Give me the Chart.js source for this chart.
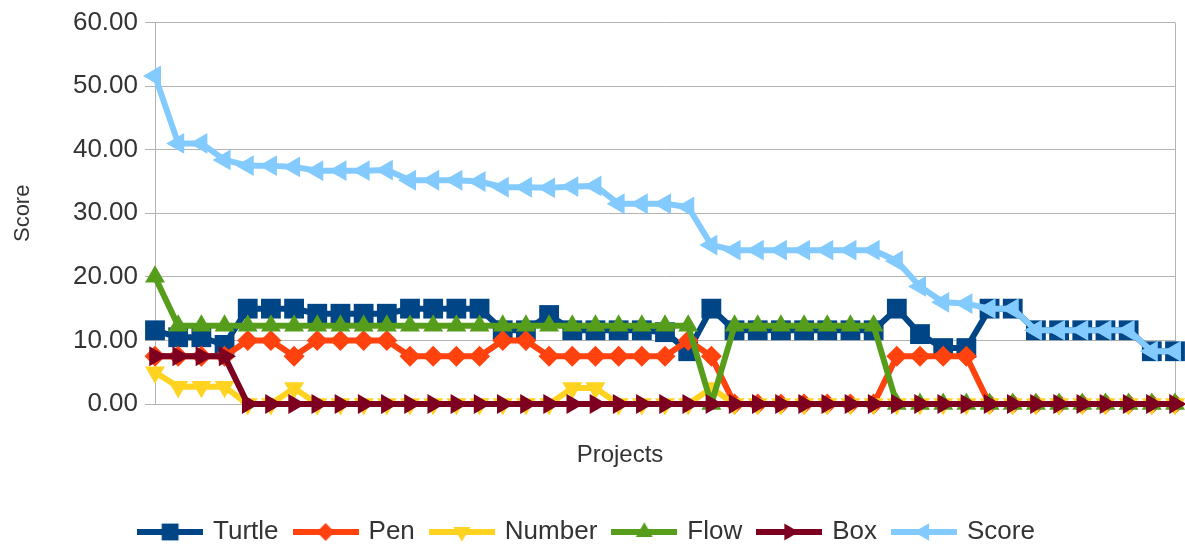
<!DOCTYPE html>
<html>
<head>
<meta charset="utf-8">
<script src="https://cdn.jsdelivr.net/npm/chart.js@4.4.1/dist/chart.umd.min.js"></script>
<style>
    html, body { margin: 0; padding: 0; background: #ffffff; }
    #wrap { width: 1185px; height: 545px; }
</style>
</head>
<body>
<div id="wrap"><canvas id="chart-score"></canvas></div>
<script>
const projects = ['1', '2', '3', '4', '5', '6', '7', '8', '9', '10', '11', '12', '13', '14', '15',
    '16', '17', '18', '19', '20', '21', '22', '23', '24', '25', '26', '27', '28', '29', '30',
    '31', '32', '33', '34', '35', '36', '37', '38', '39', '40', '41', '42', '43', '44', '45'];

const turtle = [11.6, 10.5, 10.5, 9.3, 15, 15, 15, 14.2, 14.2, 14.2, 14.2, 15, 15, 15, 15,
    11.6, 11.6, 14, 11.6, 11.6, 11.6, 11.6, 11.3, 8.3, 15, 11.6, 11.6, 11.6, 11.6, 11.6,
    11.6, 11.6, 15, 11, 8.8, 8.8, 15, 15, 11.6, 11.6, 11.6, 11.6, 11.6, 8.3, 8.3];
const pen = [7.5, 7.5, 7.5, 7.5, 10, 10, 7.5, 10, 10, 10, 10, 7.5, 7.5, 7.5, 7.5,
    10, 10, 7.5, 7.5, 7.5, 7.5, 7.5, 7.5, 10, 7.5, 0, 0, 0, 0, 0,
    0, 0, 7.5, 7.5, 7.5, 7.5, 0, 0, 0, 0, 0, 0, 0, 0, 0];
const number = [5, 2.7, 2.7, 2.7, 0, 0, 2.5, 0, 0, 0, 0, 0, 0, 0, 0,
    0, 0, 0, 2.5, 2.5, 0, 0, 0, 0, 2.5, 0, 0, 0, 0, 0,
    0, 0, 0, 0, 0, 0, 0, 0, 0, 0, 0, 0, 0, 0, 0];
const flow = [20, 12.3, 12.3, 12.3, 12.3, 12.3, 12.3, 12.3, 12.3, 12.3, 12.3, 12.3, 12.3, 12.3, 12.3,
    12.3, 12.3, 12.3, 12.3, 12.3, 12.3, 12.3, 12.3, 12.3, 0, 12.3, 12.3, 12.3, 12.3, 12.3,
    12.3, 12.3, 0, 0, 0, 0, 0, 0, 0, 0, 0, 0, 0, 0, 0];
const box = [7.5, 7.5, 7.5, 7.5, 0, 0, 0, 0, 0, 0, 0, 0, 0, 0, 0,
    0, 0, 0, 0, 0, 0, 0, 0, 0, 0, 0, 0, 0, 0, 0,
    0, 0, 0, 0, 0, 0, 0, 0, 0, 0, 0, 0, 0, 0, 0];
const score = [51.6, 41, 41, 38.4, 37.5, 37.5, 37.3, 36.7, 36.7, 36.7, 36.8, 35.2, 35.2, 35.2, 35,
    34.1, 34.1, 34, 34.2, 34.3, 31.5, 31.5, 31.5, 31, 25, 24.2, 24.2, 24.2, 24.2, 24.2,
    24.2, 24.2, 22.5, 18.5, 16, 15.8, 15, 15, 11.6, 11.6, 11.6, 11.6, 11.6, 8.3, 8.3];

const yTicks = [0, 10, 20, 30, 40, 50, 60];

const FONT = "'Liberation Sans', Arial, sans-serif";
const TEXT_COLOR = '#333333';
const GRID_COLOR = '#b3b3b3';

// name, values, colour, marker, rotation, radius, draw order (lower = on top)
const series = [
    ['Turtle', turtle, '#004586', 'rect', 0, 14, 5],
    ['Pen', pen, '#ff420e', 'rectRot', 0, 10.5, 4],
    ['Number', number, '#ffd320', 'triangle', 180, 11.5, 3],
    ['Flow', flow, '#579d1c', 'triangle', 0, 11.5, 2],
    ['Box', box, '#7e0021', 'triangle', 90, 11.5, 1],
    ['Score', score, '#83caff', 'triangle', 270, 12, 0],
];

// legend symbol: a short line with the marker in the middle
function legendSymbol(color, style, rotation, radius) {
    const c = document.createElement('canvas');
    c.width = 66;
    c.height = 26;
    const ctx = c.getContext('2d');
    ctx.strokeStyle = color;
    ctx.fillStyle = color;
    ctx.lineWidth = 6;
    ctx.beginPath();
    ctx.moveTo(0, 13);
    ctx.lineTo(66, 13);
    ctx.stroke();
    ctx.save();
    ctx.translate(33, 13);
    ctx.rotate(rotation * Math.PI / 180);
    const r = radius * 0.85;
    ctx.beginPath();
    if (style === 'rect') {
        const s = r * Math.SQRT1_2;
        ctx.rect(-s, -s, 2 * s, 2 * s);
    } else if (style === 'rectRot') {
        ctx.moveTo(0, -r);
        ctx.lineTo(r, 0);
        ctx.lineTo(0, r);
        ctx.lineTo(-r, 0);
        ctx.closePath();
    } else {
        for (let k = 0; k < 3; k++) {
            const a = k * 2 * Math.PI / 3;
            const px = Math.sin(a) * r;
            const py = -Math.cos(a) * r;
            if (k === 0) ctx.moveTo(px, py); else ctx.lineTo(px, py);
        }
        ctx.closePath();
    }
    ctx.fill();
    ctx.restore();
    return c;
}

const symbols = series.map(s => legendSymbol(s[2], s[3], s[4], s[5]));

const datasets = series.map(function (s) {
    return {
        label: s[0],
        data: s[1],
        borderColor: s[2],
        backgroundColor: s[2],
        pointBackgroundColor: s[2],
        pointBorderColor: s[2],
        pointBorderWidth: 0,
        pointStyle: s[3],
        pointRotation: s[4],
        pointRadius: s[5],
        pointHoverRadius: s[5],
        borderWidth: 6,
        borderJoinStyle: 'round',
        tension: 0,
        clip: false,
        order: s[6],
    };
});

// x title drawn where the original puts it
const projectsTitle = {
    id: 'projectsTitle',
    afterDraw(chart) {
        const ctx = chart.ctx;
        ctx.save();
        ctx.font = "24px " + FONT;
        ctx.fillStyle = TEXT_COLOR;
        ctx.textAlign = 'center';
        ctx.textBaseline = 'middle';
        ctx.fillText('Projects', 620, 455);
        ctx.restore();
    }
};

new Chart(document.getElementById('chart-score'), {
    type: 'line',
    data: {
        labels: projects,
        datasets: datasets,
    },
    options: {
        responsive: true,
        maintainAspectRatio: false,
        animation: false,
        events: [],
        layout: {
            autoPadding: false,
            padding: { top: 22, right: 10, bottom: -10, left: 0 }
        },
        scales: {
            x: {
                offset: false,
                grid: {
                    drawTicks: false,
                    color: ctx => (ctx.index === 0 || ctx.index === projects.length - 1) ? GRID_COLOR : 'rgba(0,0,0,0)',
                    lineWidth: 1,
                },
                border: { color: GRID_COLOR, width: 1 },
                ticks: { display: false },
                afterFit: function (scale) { scale.height = 98; },
            },
            y: {
                min: 0,
                max: 60,
                afterBuildTicks: function (scale) {
                    scale.ticks = yTicks.map(v => ({ value: v }));
                },
                grid: {
                    color: GRID_COLOR,
                    lineWidth: 1,
                    tickLength: 10,
                },
                border: { color: GRID_COLOR, width: 1 },
                ticks: {
                    color: TEXT_COLOR,
                    font: { family: FONT, size: 26 },
                    padding: 7,
                    callback: v => Number(v).toFixed(2),
                },
                title: {
                    display: true,
                    text: 'Score',
                    color: TEXT_COLOR,
                    font: { family: FONT, size: 22 },
                    padding: { top: 10, bottom: 0 },
                },
                afterFit: function (scale) { scale.width = 155; },
            }
        },
        plugins: {
            legend: {
                position: 'bottom',
                labels: {
                    usePointStyle: true,
                    pointStyleWidth: 60,
                    color: TEXT_COLOR,
                    font: { family: FONT, size: 26 },
                    padding: 17,
                    sort: (a, b) => a.datasetIndex - b.datasetIndex,
                    generateLabels: function (chart) {
                        const items = Chart.defaults.plugins.legend.labels.generateLabels(chart);
                        items.forEach(function (item) {
                            item.pointStyle = symbols[item.datasetIndex];
                            item.rotation = 0;
                        });
                        return items;
                    }
                }
            },
            tooltip: { enabled: false },
        }
    },
    plugins: [projectsTitle],
});
</script>
</body>
</html>
